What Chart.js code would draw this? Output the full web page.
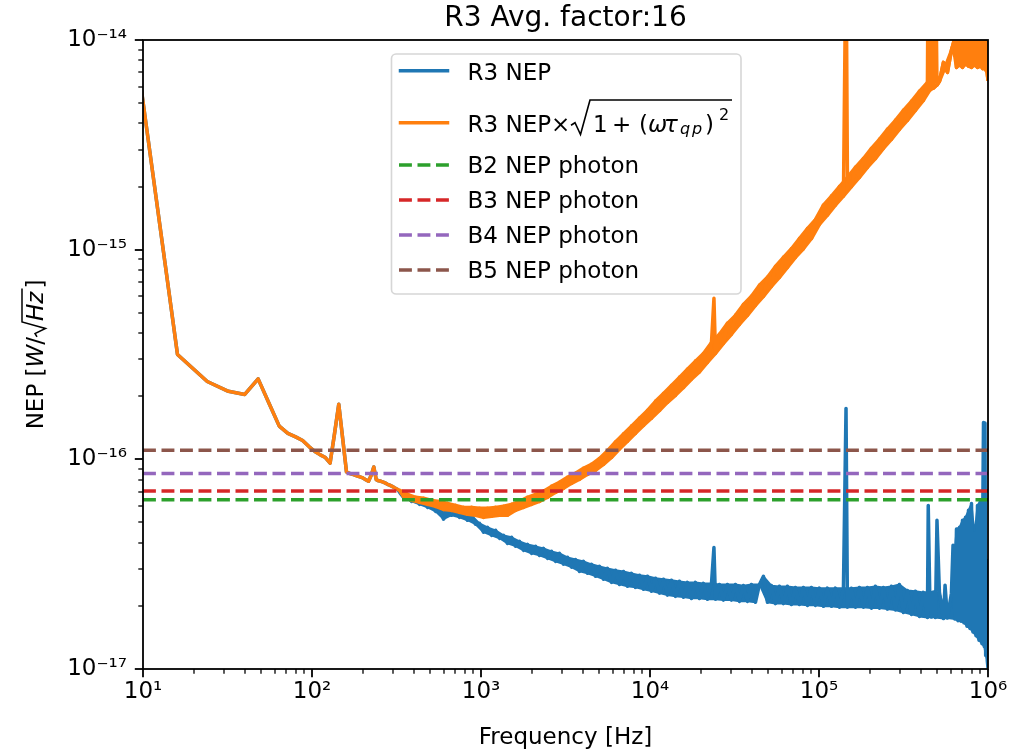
<!DOCTYPE html>
<html><head><meta charset="utf-8">
<script src="https://cdn.jsdelivr.net/npm/chart.js@4.4.1/dist/chart.umd.min.js"></script>
<style>html,body{margin:0;padding:0;background:#fff;}canvas{display:block;}</style>
</head><body>
<canvas id="c" width="1020" height="753"></canvas>
<script>
// ---------------- data ----------------
const titleText = 'R3 Avg. factor:16';
const xTitle = 'Frequency [Hz]';
const seriesLabels = ['R3 NEP', 'R3 NEP×√(1+(ωτqp)²)'];
const photonLabels = ['B2 NEP photon', 'B3 NEP photon', 'B4 NEP photon', 'B5 NEP photon'];
const photonNEP = [6.42e-17, 7.06e-17, 8.55e-17, 1.104e-16];
const xMajor = [1e1, 1e2, 1e3, 1e4, 1e5, 1e6];
const yMajor = [1e-17, 1e-16, 1e-15, 1e-14];

// low-frequency part: both curves coincide
const lowFreq = [8,16,24,32,40,48,56,64,72,80,88,96,104,112,120,128,136,144,152,160,
  168,176,184,192,200,208,216,224,232,240,248,256,264,272,280,288,296,304,312,320];
const lowNEP = [1.9e-14,3.16e-16,2.35e-16,2.11e-16,2.04e-16,2.42e-16,1.83e-16,1.44e-16,1.33e-16,1.28e-16,
  1.23e-16,1.15e-16,1.09e-16,1.05e-16,1.02e-16,9.6e-17,1.33e-16,1.83e-16,1.25e-16,8.7e-17,
  8.55e-17,8.45e-17,8.35e-17,8.25e-17,8.15e-17,8.0e-17,7.86e-17,8.4e-17,9.2e-17,8.0e-17,
  7.9e-17,7.86e-17,7.78e-17,7.7e-17,7.6e-17,7.53e-17,7.45e-17,7.37e-17,7.27e-17,7.2e-17];

// noisy part (alternating upper / lower excursions of the noise)
const noiseFreq = [
  330,348,368,388,410,433,457,483,510,538,
  568,600,634,669,707,746,788,832,879,928,
  980,1035,1093,1154,1219,1287,1359,1435,1516,1601,
  1690,1785,1885,1990,2102,2219,2344,2475,2613,2760,
  2914,3078,3250,3432,3624,3827,4041,4268,4507,4759,
  5026,5307,5604,5918,6249,6599,6969,7359,7771,8206,
  8666,9151,9663,10200,10780,11380,12020,12690,13400,14150,
  14940,15780,16660,17600,18580,19620,20720,21880,23110,23900,
  24400,25770,27210,28730,30340,32040,33830,35730,37730,39840,
  42070,44430,46920,49540,52320,55250,58340,61610,65060,68700,
  72550,76610,80900,85430,90210,95260,100600,106200,112200,118500,
  125100,132100,139500,144500,147300,155600,164300,173500,183200,193500,
  204300,215700,227800,240600,254000,268300,283300,299200,315900,333600,
  352300,372000,392800,414800,438100,443000,452000,462600,475000,488500,
  499000,515900,544800,557000,575300,607500,621000,637800,651000,664500,
  678200,692100,706500,721100,736000,751000,766600,782400,798600,815000,
  832000,849200,866800,884500,902800,921400,931000,940500,950000,959800,
  969000,979700,990000,1000000];

const r3NEP = [
  6.96e-17,6.59e-17,6.74e-17,6.30e-17,6.52e-17,6.10e-17,6.37e-17,5.90e-17,6.16e-17,5.65e-17,
  5.84e-17,5.18e-17,5.77e-17,5.41e-17,5.65e-17,5.29e-17,5.53e-17,5.12e-17,5.41e-17,4.90e-17,
  4.95e-17,4.49e-17,4.74e-17,4.34e-17,4.59e-17,4.20e-17,4.34e-17,3.97e-17,4.25e-17,3.85e-17,
  4.06e-17,3.68e-17,3.93e-17,3.56e-17,3.85e-17,3.48e-17,3.76e-17,3.37e-17,3.64e-17,3.26e-17,
  3.56e-17,3.16e-17,3.41e-17,3.06e-17,3.33e-17,2.92e-17,3.26e-17,2.86e-17,3.16e-17,2.77e-17,
  3.09e-17,2.68e-17,3.02e-17,2.59e-17,2.96e-17,2.53e-17,2.92e-17,2.48e-17,2.86e-17,2.45e-17,
  2.80e-17,2.40e-17,2.77e-17,2.35e-17,2.71e-17,2.30e-17,2.68e-17,2.25e-17,2.65e-17,2.22e-17,
  2.62e-17,2.20e-17,2.59e-17,2.17e-17,2.59e-17,2.17e-17,2.56e-17,2.15e-17,2.56e-17,3.80e-17,
  2.15e-17,2.53e-17,2.13e-17,2.53e-17,2.13e-17,2.53e-17,2.10e-17,2.50e-17,2.10e-17,2.53e-17,
  2.08e-17,2.53e-17,2.77e-17,2.08e-17,2.50e-17,2.05e-17,2.48e-17,2.05e-17,2.48e-17,2.03e-17,
  2.45e-17,2.03e-17,2.45e-17,2.01e-17,2.45e-17,2.01e-17,2.43e-17,1.99e-17,2.43e-17,1.99e-17,
  2.43e-17,1.97e-17,2.43e-17,1.75e-16,1.97e-17,2.43e-17,1.97e-17,2.45e-17,1.97e-17,2.45e-17,
  1.95e-17,2.48e-17,1.95e-17,2.45e-17,1.93e-17,2.48e-17,1.91e-17,2.53e-17,1.86e-17,2.37e-17,
  1.82e-17,2.35e-17,1.78e-17,2.32e-17,1.76e-17,6.03e-17,2.34e-17,1.77e-17,2.33e-17,1.76e-17,
  5.12e-17,2.32e-17,1.74e-17,2.51e-17,1.75e-17,2.30e-17,3.89e-17,1.73e-17,4.65e-17,1.70e-17,
  4.74e-17,1.69e-17,5.12e-17,1.66e-17,5.29e-17,1.60e-17,5.71e-17,1.56e-17,6.16e-17,1.50e-17,
  4.44e-17,1.44e-17,6.03e-17,1.37e-17,6.37e-17,1.32e-17,5.41e-17,1.50e-16,1.28e-17,1.49e-16,
  1.16e-17,3.30e-17,1.10e-17,1.01e-17];

const r3NEPcorr = [
  7.11e-17,6.66e-17,6.81e-17,6.37e-17,6.59e-17,6.23e-17,6.52e-17,6.10e-17,6.37e-17,5.97e-17,
  6.30e-17,5.77e-17,6.16e-17,5.71e-17,6.03e-17,5.59e-17,5.90e-17,5.47e-17,5.90e-17,5.41e-17,
  5.84e-17,5.29e-17,5.84e-17,5.35e-17,5.90e-17,5.41e-17,5.97e-17,5.41e-17,6.10e-17,5.71e-17,
  6.30e-17,5.90e-17,6.59e-17,6.10e-17,6.81e-17,6.30e-17,7.04e-17,6.59e-17,7.43e-17,6.96e-17,
  7.77e-17,7.27e-17,8.21e-17,7.68e-17,8.58e-17,8.03e-17,9.06e-17,8.48e-17,9.47e-17,8.86e-17,
  1.01e-16,9.46e-17,1.10e-16,1.02e-16,1.21e-16,1.12e-16,1.32e-16,1.22e-16,1.44e-16,1.33e-16,
  1.57e-16,1.45e-16,1.71e-16,1.57e-16,1.89e-16,1.71e-16,2.06e-16,1.87e-16,2.25e-16,2.02e-16,
  2.46e-16,2.20e-16,2.69e-16,2.41e-16,2.94e-16,2.61e-16,3.20e-16,2.90e-16,3.61e-16,5.86e-16,
  3.20e-16,3.95e-16,3.57e-16,4.45e-16,3.95e-16,4.86e-16,4.40e-16,5.48e-16,4.86e-16,5.99e-16,
  5.42e-16,6.76e-16,5.99e-16,7.38e-16,6.68e-16,8.32e-16,7.38e-16,9.19e-16,8.23e-16,1.01e-15,
  9.19e-16,1.13e-15,1.01e-15,1.26e-15,1.13e-15,1.39e-15,1.32e-15,1.63e-15,1.46e-15,1.80e-15,
  1.63e-15,2.00e-15,1.80e-15,3.0e-14,2.21e-15,2.00e-15,2.47e-15,2.21e-15,2.72e-15,2.47e-15,
  3.04e-15,2.72e-15,3.36e-15,3.04e-15,3.75e-15,3.36e-15,4.14e-15,3.75e-15,4.62e-15,4.14e-15,
  5.10e-15,4.62e-15,5.69e-15,5.15e-15,6.28e-15,3.0e-14,5.75e-15,3.0e-14,5.9e-15,3.0e-14,
  6.1e-15,6.35e-15,7.82e-15,7.4e-15,7.01e-15,8.91e-15,9.5e-15,1.04e-14,7.4e-15,1.04e-14,
  7.6e-15,1.04e-14,7.4e-15,1.04e-14,7.7e-15,1.04e-14,7.5e-15,1.04e-14,7.4e-15,1.04e-14,
  7.6e-15,1.04e-14,7.4e-15,1.04e-14,7.5e-15,1.04e-14,7.3e-15,1.04e-14,7.4e-15,1.04e-14,
  7.2e-15,1.04e-14,7.0e-15,6.4e-15];

// narrow spikes (drawn as lines only, kept out of the noise band)
const r3SpikeFreq = [23900, 144500, 443000, 499000, 557000, 621000, 940500, 959800];
const corrSpikeFreq = [23900, 144500, 443000, 462600, 488500];

// ---------------- build datasets ----------------
const colors = ['#1f77b4', '#ff7f0e', '#2ca02c', '#d62728', '#9467bd', '#8c564b'];
const allFreq = lowFreq.concat(noiseFreq);
const toPts = (fs, vs) => fs.map((f, i) => ({x: f, y: vs[i]}));
const DASH = [12.9, 5.6];
const LW = 3.5;

// upper / lower edges of the noise band: local maxima and minima of the noisy trace
function bandEdges(fs, vs, spikes) {
  const pts = toPts(fs, vs).filter(p => !spikes.includes(p.x));
  const up = [], lo = [];
  pts.forEach((p, i) => {
    if (i === 0 || i === pts.length - 1) { up.push(p); lo.push(p); return; }
    const a = pts[i - 1].y, b = pts[i + 1].y;
    const isMax = p.y >= a && p.y >= b, isMin = p.y <= a && p.y <= b;
    if (isMax && !isMin) up.push(p);
    else if (isMin && !isMax) lo.push(p);
    else { up.push(p); lo.push(p); }
  });
  return {up, lo};
}
const blueBand = bandEdges(noiseFreq, r3NEP, r3SpikeFreq);
const orangeBand = bandEdges(noiseFreq, r3NEPcorr, corrSpikeFreq);

const datasets = [
  {label: 'band', data: blueBand.up, borderWidth: 1.8, borderColor: colors[0], backgroundColor: colors[0], fill: '+1', order: 12},
  {label: 'band', data: blueBand.lo, borderWidth: 1.8, borderColor: colors[0], backgroundColor: colors[0], fill: false, order: 12},
  {label: seriesLabels[0], data: toPts(allFreq, lowNEP.concat(r3NEP)), borderColor: colors[0], borderWidth: LW, fill: false, order: 11},
  {label: 'band', data: orangeBand.up, borderWidth: 3.5, borderColor: colors[1], backgroundColor: colors[1], fill: '+1', order: 10},
  {label: 'band', data: orangeBand.lo, borderWidth: 3.5, borderColor: colors[1], backgroundColor: colors[1], fill: false, order: 10},
  {label: seriesLabels[1], data: toPts(allFreq, lowNEP.concat(r3NEPcorr)), borderColor: colors[1], borderWidth: LW, fill: false, order: 9}
];
photonLabels.forEach((lab, i) => {
  datasets.push({label: lab, data: toPts([xMajor[0], xMajor[xMajor.length - 1]], [photonNEP[i], photonNEP[i]]),
    borderColor: colors[2 + i], borderWidth: LW, borderDash: DASH, fill: false, order: 4 - i});
});
datasets.forEach(d => { d.pointRadius = 0; d.clip = 0; d.tension = 0;
  d.borderJoinStyle = 'round'; d.borderCapStyle = 'butt'; });

const SUP = {'-': '⁻', '0': '⁰', '1': '¹', '2': '²', '3': '³', '4': '⁴', '5': '⁵', '6': '⁶', '7': '⁷', '8': '⁸', '9': '⁹'};
const powLabel = v => '10' + String(Math.round(Math.log10(v))).split('').map(c => SUP[c]).join('');

const FONT = '"DejaVu Sans"';
Chart.defaults.font.family = FONT;
Chart.defaults.color = '#000';

// ---------------- decorations: frame, ticks, title, y label, legend ----------------
const decor = {
  id: 'decor',
  afterDraw(chart) {
    const {ctx, chartArea: a} = chart;
    const xs = chart.scales.x, ys = chart.scales.y;
    ctx.save();
    ctx.strokeStyle = '#000';
    ctx.lineCap = 'butt';
    for (let e = 1; e <= 6; e++) {
      for (let k = 1; k <= 9; k++) {
        const v = k * Math.pow(10, e);
        if (v > 1e6 * 1.0001) continue;
        const px = Math.round(xs.getPixelForValue(v));
        const major = k === 1;
        ctx.lineWidth = major ? 1.8 : 1.3;
        ctx.beginPath(); ctx.moveTo(px, a.bottom); ctx.lineTo(px, a.bottom + (major ? 8.2 : 4.7)); ctx.stroke();
      }
    }
    for (let e = -17; e <= -14; e++) {
      for (let k = 1; k <= 9; k++) {
        const v = k * Math.pow(10, e);
        if (v > 1.0001e-14) continue;
        const py = Math.round(ys.getPixelForValue(v));
        const major = k === 1;
        ctx.lineWidth = major ? 1.8 : 1.3;
        ctx.beginPath(); ctx.moveTo(a.left, py); ctx.lineTo(a.left - (major ? 8.2 : 4.7), py); ctx.stroke();
      }
    }
    ctx.lineWidth = 1.8;
    ctx.strokeRect(a.left, a.top, a.right - a.left, a.bottom - a.top);

    // title
    ctx.fillStyle = '#000';
    ctx.font = '28px ' + FONT;
    ctx.textAlign = 'center'; ctx.textBaseline = 'alphabetic';
    ctx.fillText(titleText, (a.left + a.right) / 2, 26);

    // y label: NEP [W/√Hz]
    const reg = '23px ' + FONT, ita = 'italic 23px ' + FONT;
    ctx.save();
    ctx.translate(43, (a.top + a.bottom) / 2);
    ctx.rotate(-Math.PI / 2);
    ctx.textAlign = 'left';
    const pieces = [['NEP [', reg], ['W', ita], ['/', reg], ['RAD', null], ['Hz', ita], [']', reg]];
    const widths = pieces.map(p => { if (!p[1]) return 16; ctx.font = p[1]; return ctx.measureText(p[0]).width + (p[0] === 'Hz' ? 3 : 0); });
    const total = widths.reduce((s, w) => s + w, 0);
    let xx = -total / 2;
    pieces.forEach((p, i) => {
      if (!p[1]) {
        const hzW = widths[i + 1];
        ctx.lineWidth = 1.5; ctx.lineJoin = 'miter';
        ctx.beginPath();
        ctx.moveTo(xx, -6); ctx.lineTo(xx + 3.5, -8); ctx.lineTo(xx + 8.5, 2.5); ctx.lineTo(xx + 15, -21);
        ctx.lineTo(xx + 16 + hzW, -21); ctx.stroke();
      } else {
        ctx.font = p[1]; ctx.fillText(p[0], xx, 0);
      }
      xx += widths[i];
    });
    ctx.restore();

    // legend
    const L = {x: 391.5, y: 54, w: 349.5, h: 240, r: 4.6};
    ctx.beginPath();
    ctx.roundRect(L.x, L.y, L.w, L.h, L.r);
    ctx.fillStyle = 'rgba(255,255,255,0.8)'; ctx.fill();
    ctx.lineWidth = 1.6; ctx.strokeStyle = 'rgba(204,204,204,0.8)'; ctx.stroke();
    const handles = [70.7, 122.7, 165, 200, 235, 270];
    const baselines = [80, 131.7, 173.3, 208.3, 243.3, 278.3];
    handles.forEach((hy, i) => {
      ctx.beginPath();
      ctx.strokeStyle = colors[i];
      ctx.lineWidth = LW;
      ctx.setLineDash(i >= 2 ? DASH : []);
      ctx.lineCap = i >= 2 ? 'butt' : 'square';
      ctx.moveTo(i >= 2 ? 399 : 400.5, hy); ctx.lineTo(i >= 2 ? 449.5 : 447.5, hy); ctx.stroke();
    });
    ctx.setLineDash([]);
    ctx.fillStyle = '#000'; ctx.textAlign = 'left'; ctx.textBaseline = 'alphabetic';
    ctx.font = reg;
    ctx.fillText(seriesLabels[0], 467.5, baselines[0]);
    photonLabels.forEach((lab, i) => ctx.fillText(lab, 467.5, baselines[2 + i]));
    const b = baselines[1];
    ctx.fillText('R3 NEP×', 467.5, b);
    ctx.strokeStyle = '#000'; ctx.lineWidth = 1.6; ctx.lineCap = 'butt'; ctx.lineJoin = 'miter';
    ctx.beginPath();
    ctx.moveTo(571, b - 6.5); ctx.lineTo(575, b - 9); ctx.lineTo(580.5, b + 2.8); ctx.lineTo(590, 100); ctx.lineTo(732, 100);
    ctx.stroke();
    ctx.fillText('1', 593, b);
    ctx.fillText('+', 612, b);
    ctx.fillText('(', 639, b);
    ctx.font = ita; ctx.fillText('ω', 648, b); ctx.fillText('τ', 664, b);
    ctx.font = 'italic 16px ' + FONT; ctx.fillText('q', 680, b + 2.5); ctx.fillText('p', 692, b + 2.5);
    ctx.font = reg; ctx.fillText(')', 705, b);
    ctx.font = '16px ' + FONT; ctx.fillText('2', 719, 120);
    ctx.restore();
  }
};

new Chart(document.getElementById('c'), {
  type: 'line',
  data: {datasets},
  options: {
    responsive: false,
    animation: false,
    events: [],
    layout: {padding: {left: 0, right: 32, top: 40, bottom: 0}},
    plugins: {legend: {display: false}, tooltip: {enabled: false}, title: {display: false}},
    scales: {
      x: {
        type: 'logarithmic', min: xMajor[0], max: xMajor[xMajor.length - 1], position: 'bottom',
        afterBuildTicks: s => { s.ticks = xMajor.map(v => ({value: v, major: true})); },
        afterFit: s => { s.height = 84; },
        grid: {display: false, drawTicks: false}, border: {display: false},
        ticks: {callback: v => powLabel(v), padding: 9, maxRotation: 0, autoSkip: false, color: '#000', font: {size: 23}},
        title: {display: true, text: xTitle, color: '#000', font: {size: 23}, padding: {top: 0, bottom: 1}}
      },
      y: {
        type: 'logarithmic', min: yMajor[0], max: yMajor[yMajor.length - 1],
        afterBuildTicks: s => { s.ticks = yMajor.map(v => ({value: v, major: true})); },
        afterFit: s => { s.width = 143; },
        grid: {display: false, drawTicks: false}, border: {display: false},
        ticks: {callback: v => powLabel(v), padding: 16, autoSkip: false, color: '#000', font: {size: 23}}
      }
    }
  },
  plugins: [decor]
});
</script>
</body></html>
